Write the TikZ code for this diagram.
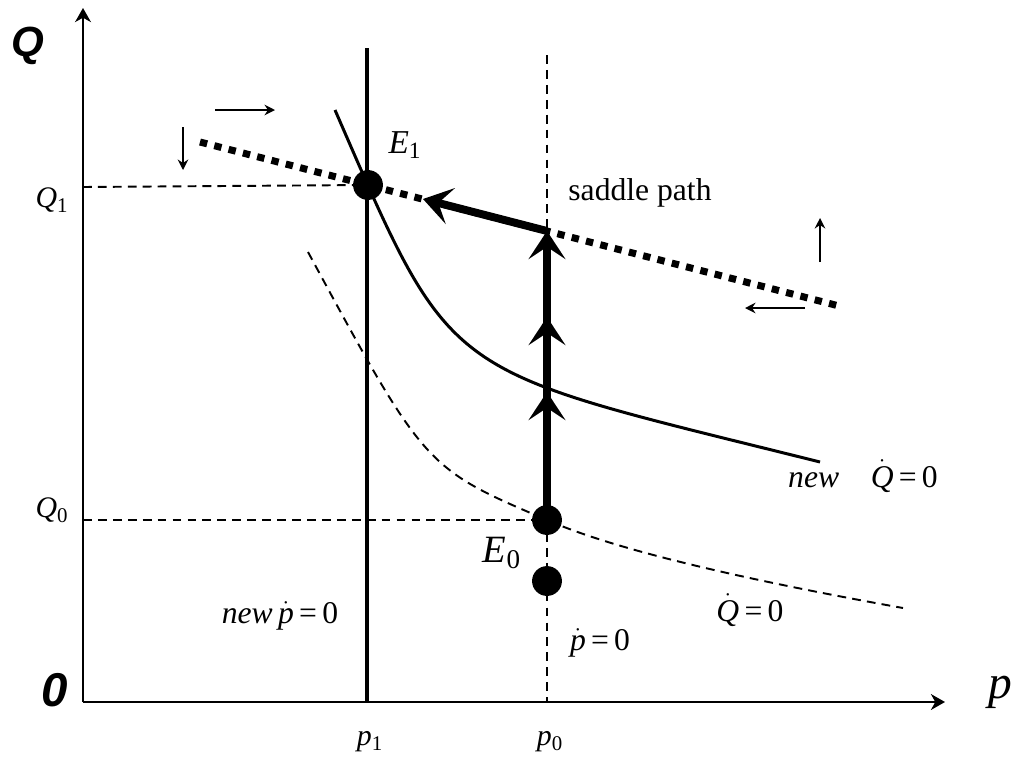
\documentclass[tikz,border=0pt]{standalone}
\usepackage{fontspec}
\setmainfont{Liberation Serif}
\newfontfamily\axisfont{Liberation Sans}
\usetikzlibrary{arrows.meta}
\newcommand\tdot[1]{\ensuremath{\dot{\mbox{\itshape #1}}}}

\begin{document}
\begin{tikzpicture}[x=0.02cm, y=-0.02cm,
  axis/.style={line width=1.4pt, -{Stealth[length=8pt,width=9pt,inset=2.5pt]}},
  guide/.style={line width=1.1pt, dash pattern=on 5pt off 3.5pt},
  curve/.style={line width=1.7pt},
  saddle/.style={line width=4pt, dash pattern=on 4.2pt off 4.2pt},
  motion/.style={line width=4.5pt, -{Stealth[length=16pt,width=21pt,inset=7pt]}},
  hint/.style={line width=0.9pt, -{Stealth[length=6pt,width=6pt,inset=2pt]}},
  state/.style={circle, fill, inner sep=0pt, minimum size=17pt},
  lbl/.style={inner sep=0pt, font=\fontsize{18}{20}\selectfont}]
  \useasboundingbox (0,0) rectangle (1028,778);

  % axes
  \coordinate (O) at (83,702);
  \coordinate (Qtop) at (83,8);
  \coordinate (pend) at (945,702);
  \draw[axis] (O) -- (Qtop);
  \draw[axis] (O) -- (pend);
  \node[inner sep=0pt, font=\axisfont\bfseries\itshape\fontsize{24}{26}\selectfont] (Qname) at (28,46) {Q};
  \node[inner sep=0pt, font=\axisfont\bfseries\itshape\fontsize{27}{29}\selectfont] (zero) at (55,690) {0};
  \node[inner sep=0pt, font=\itshape\fontsize{27}{30}\selectfont] (pname) at (1000,692) {p};

  % equilibria
  \coordinate (E1) at (368,185);
  \coordinate (E0) at (547,520);
  \coordinate (jump) at (547,231);

  % p-dot = 0 lines
  \draw[line width=2.2pt] (367,48) -- (367,702);
  \draw[guide] (547,55) -- (547,702);
  \draw[guide] (83,187) -- (E1);
  \draw[guide] (83,520) -- (E0);

  % Q-dot = 0 curves
  \draw[curve] (335,110) .. controls (455,386) and (440,367) .. (820,462);
  \draw[guide] (308,252) .. controls (425,468) .. (E0)
    .. controls (611,548) and (730,577) .. (903,608);

  % saddle path
  \draw[saddle] (200,142) -- (843,307);

  % adjustment path
  \node[state] (e0dot) at (E0) {};
  \node[state] (lowdot) at (547,581) {};
  \node[state] (e1dot) at (E1) {};
  \draw[motion] (e0dot.center) -- (jump);
  \draw[motion] (547,345) -- (547,317);
  \draw[motion] (547,420) -- (547,392);
  \draw[motion] (jump) -- (423,199);

  % direction hints
  \draw[hint] (215,110) -- (275,110);
  \draw[hint] (183,127) -- (183,170);
  \draw[hint] (820,262) -- (820,218);
  \draw[hint] (805,308) -- (745,308);

  % labels
  \node[inner sep=0pt, font=\itshape\fontsize{19}{21}\selectfont] (E1name) at (405,145) {E\textsubscript{\upshape 1}};
  \node[inner sep=0pt, font=\itshape\fontsize{22}{24}\selectfont] (E0name) at (502,553) {E\textsubscript{\upshape 0}};
  \node[lbl] (saddlename) at (640,193) {saddle path};
  \node[lbl, font=\itshape\fontsize{17}{19}\selectfont] (Q1name) at (52,200) {Q\textsubscript{\upshape 1}};
  \node[lbl, font=\itshape\fontsize{17}{19}\selectfont] (Q0name) at (52,510) {Q\textsubscript{\upshape 0}};
  \node[lbl, font=\itshape\fontsize{17}{19}\selectfont] (p1name) at (370,742) {p\textsubscript{\upshape 1}};
  \node[lbl, font=\itshape\fontsize{17}{19}\selectfont] (p0name) at (550,742) {p\textsubscript{\upshape 0}};
  \node[lbl] (newQdot) at (863,476) {\textit{new}\quad\tdot{Q}\,=\,0};
  \node[lbl] (Qdot) at (750,610) {\tdot{Q}\,=\,0};
  \node[lbl] (pdot) at (600,643) {\tdot{p}\,=\,0};
  \node[lbl] (newpdot) at (280,616) {\textit{new}\,\tdot{p}\,=\,0};
\end{tikzpicture}
\end{document}
